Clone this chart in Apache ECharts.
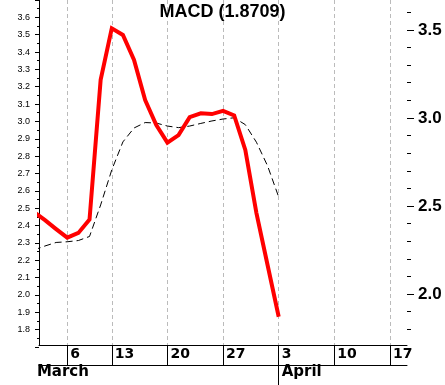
<!DOCTYPE html>
<html>
<head>
<meta charset="utf-8">
<script src="https://cdn.jsdelivr.net/npm/echarts@6/dist/echarts.min.js"></script>
<style>
html,body{margin:0;padding:0;background:#fff;}
#chart{width:445px;height:385px;}
</style>
</head>
<body>
<div id="chart"></div>
<script>
const dayNums = ['1','2','3','6','7','8','9','13','14','15','16','17','20','21','22','23','24','27','28','29','30','31','3','4','5','6','7','10','11','12','13','14','17','18'];
const weekStartIdx = [3, 7, 12, 17, 22, 27, 32];
const monthStarts = {0: 'March', 22: 'April'};
const macdValues = [2.466, 2.420, 2.369, 2.320, 2.347, 2.423, 3.216, 3.509, 3.471, 3.329, 3.102, 2.960, 2.860, 2.903, 3.005, 3.026, 3.022, 3.040, 3.014, 2.818, 2.460, 2.165, 1.8709];
const signalValues = [2.250, 2.273, 2.293, 2.297, 2.304, 2.327, 2.506, 2.705, 2.864, 2.943, 2.974, 2.971, 2.954, 2.945, 2.954, 2.969, 2.983, 2.994, 3.001, 2.962, 2.862, 2.728, 2.551];
const lastValue = '1.8709';
const leftTicks = {min: 1.7, max: 3.7, step: 0.1};
const rightMajor = {min: 2.0, max: 3.5, step: 0.5};
const rightMinor = {min: 1.8, max: 3.6, step: 0.1};

const chart = echarts.init(document.getElementById('chart'), null, {renderer: 'canvas'});
const black = '#000';
const clear = 'rgba(0,0,0,0)';

const option = {
  backgroundColor: '#fff',
  animation: false,
  title: {
    text: 'MACD (' + lastValue + ')',
    left: 'center', top: 3, padding: 0,
    textStyle: {fontFamily: 'Liberation Sans, Arial', fontSize: 18, fontWeight: 'bold', color: black}
  },
  grid: [
    {left: 39, right: 38, top: 0, bottom: 40},
    {left: 39, right: 38, top: -5.3, bottom: 38.1},
    {left: 39, right: 38, top: 29.9, bottom: 90.9},
    {left: 39, right: 38, top: 12.3, bottom: 55.7},
    {left: 33.9, right: 43.9, top: 0, bottom: 40}
  ],
  xAxis: [
    {gridIndex: 0, type: 'value', min: 0.46, max: 33.53,
     axisLine: {show: true, lineStyle: {color: black, width: 1}},
     axisTick: {show: false}, axisLabel: {show: false}, splitLine: {show: false}},
    {gridIndex: 0, type: 'value', min: 0.46, max: 33.53, position: 'bottom', offset: 20,
     axisLine: {show: true, lineStyle: {color: black, width: 1}},
     axisTick: {show: false}, axisLabel: {show: false}, splitLine: {show: false}},
    {gridIndex: 1, type: 'category', data: ['a'], axisLine: {show: false}, axisTick: {show: false}, axisLabel: {show: false}},
    {gridIndex: 2, type: 'category', data: ['a'], axisLine: {show: false}, axisTick: {show: false}, axisLabel: {show: false}},
    {gridIndex: 3, type: 'category', data: ['a'], axisLine: {show: false}, axisTick: {show: false}, axisLabel: {show: false}},
    {gridIndex: 4, type: 'category', data: dayNums, boundaryGap: false, position: 'bottom',
     axisLine: {show: true, lineStyle: {color: clear}},
     axisTick: {show: true, length: 20, interval: (i) => weekStartIdx.includes(i), lineStyle: {color: black, width: 1}},
     axisLabel: {show: true, interval: (i) => weekStartIdx.includes(i), align: 'left', verticalAlign: 'top',
       margin: 2, padding: [0, 0, 0, 3], fontFamily: 'DejaVu Sans', fontSize: 14, fontWeight: 'bold', color: black},
     splitLine: {show: true, interval: (i) => weekStartIdx.includes(i), lineStyle: {color: '#bbbbbb', width: 1, type: [4, 3]}}},
    {gridIndex: 4, type: 'category', data: dayNums, boundaryGap: false, position: 'bottom', offset: 20,
     axisLine: {show: true, lineStyle: {color: clear}},
     axisTick: {show: true, length: 20, interval: (i) => i !== 0 && monthStarts[i] !== undefined, lineStyle: {color: black, width: 1}},
     axisLabel: {show: true, interval: (i) => monthStarts[i] !== undefined, align: 'left', verticalAlign: 'top',
       margin: 0, padding: [0, 0, 0, 3], fontFamily: 'DejaVu Sans', fontSize: 15, fontWeight: 'bold', color: black,
       formatter: (v, i) => monthStarts[i] || ''},
     splitLine: {show: false}}
  ],
  yAxis: [
    {gridIndex: 0, type: 'value', min: 1.7107, max: 3.6698,
     axisLine: {show: true, lineStyle: {color: black, width: 1}},
     axisTick: {show: false}, axisLabel: {show: false}, splitLine: {show: false}},
    {gridIndex: 1, type: 'value', position: 'left', min: leftTicks.min, max: leftTicks.max, interval: leftTicks.step,
     axisLine: {show: true, onZero: false, lineStyle: {color: clear}},
     axisTick: {show: true, inside: false, length: 4, lineStyle: {color: black, width: 1}},
     minorTick: {show: true, splitNumber: 2, length: 2, lineStyle: {color: black, width: 1}},
     axisLabel: {show: true, margin: 9, fontFamily: 'Liberation Sans, Arial', fontSize: 9, color: black,
       formatter: (v) => (v < 1.75 || v > 3.65) ? '' : v.toFixed(1)},
     splitLine: {show: false}},
    {gridIndex: 2, type: 'value', position: 'right', min: rightMajor.min, max: rightMajor.max, interval: rightMajor.step,
     axisLine: {show: true, onZero: false, lineStyle: {color: clear}},
     axisTick: {show: true, inside: false, length: 7, lineStyle: {color: black, width: 1}},
     axisLabel: {show: true, margin: 11, fontFamily: 'Liberation Sans, Arial', fontSize: 17, fontWeight: 'bold', color: black,
       formatter: (v) => v.toFixed(1)},
     splitLine: {show: false}},
    {gridIndex: 3, type: 'value', position: 'right', min: rightMinor.min, max: rightMinor.max, interval: rightMinor.step,
     axisLine: {show: true, onZero: false, lineStyle: {color: clear}},
     axisTick: {show: true, inside: false, length: 4, lineStyle: {color: black, width: 1}},
     axisLabel: {show: false}, splitLine: {show: false}},
    {gridIndex: 4, type: 'value', show: false, min: 0, max: 1}
  ],
  series: [
    {type: 'line', xAxisIndex: 0, yAxisIndex: 0, data: signalValues.map((v, i) => [i, v]),
     showSymbol: false, symbol: 'none', clip: true, z: 2,
     lineStyle: {color: black, width: 1, type: [7, 4]}},
    {type: 'line', xAxisIndex: 0, yAxisIndex: 0, data: macdValues.map((v, i) => [i, v]),
     showSymbol: false, symbol: 'none', clip: true, z: 3,
     lineStyle: {color: '#ff0000', width: 4, join: 'miter'}}
  ]
};
chart.setOption(option);
</script>
</body>
</html>
